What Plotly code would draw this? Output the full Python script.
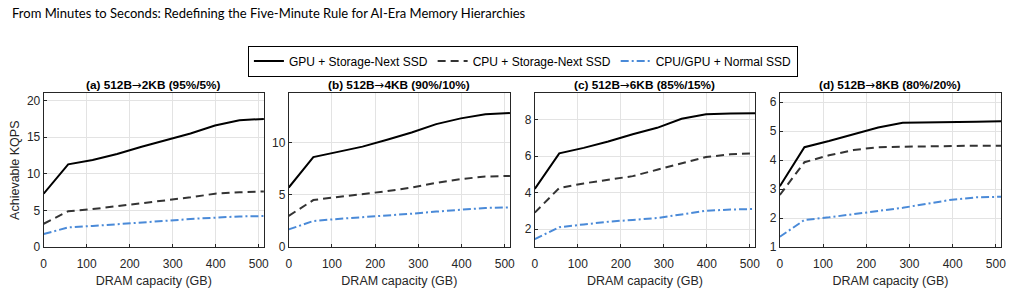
import plotly.graph_objects as go

# DRAM capacity (GB) sample points
dram_gb = [0, 56.9, 113.8, 170.7, 227.6, 284.4, 341.3, 398.2, 455.1, 512]

panel_titles = ["(a) 512B→2KB (95%/5%)", "(b) 512B→4KB (90%/10%)",
                "(c) 512B→6KB (85%/15%)", "(d) 512B→8KB (80%/20%)"]
series_names = ["GPU + Storage-Next SSD", "CPU + Storage-Next SSD", "CPU/GPU + Normal SSD"]

# (a)
a_gpu_next = [7.3, 11.3, 11.9, 12.7, 13.7, 14.55, 15.5, 16.6, 17.3, 17.5]
a_cpu_next = [3.2, 4.9, 5.2, 5.6, 5.9, 6.4, 6.8, 7.3, 7.5, 7.6]
a_normal = [1.8, 2.7, 2.9, 3.1, 3.4, 3.6, 3.85, 4.05, 4.2, 4.25]
# (b)
b_gpu_next = [5.7, 8.6, 9.1, 9.6, 10.25, 10.95, 11.75, 12.3, 12.7, 12.8]
b_cpu_next = [3.0, 4.5, 4.8, 5.05, 5.35, 5.7, 6.15, 6.5, 6.75, 6.8]
b_normal = [1.7, 2.5, 2.7, 2.85, 3.0, 3.2, 3.4, 3.6, 3.75, 3.8]
# (c)
c_gpu_next = [4.2, 6.15, 6.45, 6.8, 7.2, 7.55, 8.05, 8.3, 8.33, 8.35]
c_cpu_next = [2.9, 4.25, 4.5, 4.7, 4.9, 5.25, 5.6, 5.95, 6.1, 6.15]
c_normal = [1.45, 2.1, 2.25, 2.4, 2.5, 2.6, 2.8, 3.0, 3.07, 3.1]
# (d)
d_gpu_next = [3.1, 4.45, 4.66, 4.89, 5.13, 5.29, 5.31, 5.33, 5.33, 5.34]
d_cpu_next = [2.8, 3.93, 4.17, 4.35, 4.45, 4.47, 4.48, 4.49, 4.5, 4.5]
d_normal = [1.36, 1.94, 2.03, 2.15, 2.25, 2.36, 2.5, 2.64, 2.72, 2.74]

panels = [
    (a_gpu_next, a_cpu_next, a_normal),
    (b_gpu_next, b_cpu_next, b_normal),
    (c_gpu_next, c_cpu_next, c_normal),
    (d_gpu_next, d_cpu_next, d_normal),
]
y_ranges = [[0, 21], [0, 14.7], [1, 9.45], [1, 6.31]]
y_ticks = [[0, 5, 10, 15, 20], [0, 5, 10], [2, 4, 6, 8], [1, 2, 3, 4, 5, 6]]
x_ticks = [0, 100, 200, 300, 400, 500]

W, H = 1015, 292
x_px = [(41, 263), (288, 511), (536, 758), (783, 1006)]
y_px = (95.5, 253.3)
ydom = [(H - y_px[1]) / H, (H - y_px[0]) / H]

styles = [
    dict(color="#000000", width=2, dash="solid"),
    dict(color="#333333", width=2, dash="8px,5px"),
    dict(color="#4a8ad8", width=2, dash="8px,3px,2px,3px"),
]

font_main = "Liberation Sans, Arial, Helvetica, sans-serif"
axis_col = "#262626"

fig = go.Figure()
layout = dict(
    width=W, height=H,
    margin=dict(l=0, r=0, t=0, b=0),
    paper_bgcolor="white", plot_bgcolor="white",
    font=dict(family=font_main, size=12, color=axis_col),
    showlegend=True,
    legend=dict(orientation="h", x=0.5163, y=(H - 62.5) / H, xanchor="center", yanchor="middle",
                bordercolor="#000000", borderwidth=1, bgcolor="white",
                font=dict(family=font_main, size=12, color="#000000"),
                itemwidth=30, tracegroupgap=0),
    annotations=[],
)

for i, (series, yr, yt) in enumerate(zip(panels, y_ranges, y_ticks)):
    sfx = "" if i == 0 else str(i + 1)
    for j, (vals, name, st) in enumerate(zip(series, series_names, styles)):
        fig.add_trace(go.Scatter(
            x=dram_gb, y=vals, mode="lines", name=name, line=st,
            xaxis="x" + sfx, yaxis="y" + sfx, showlegend=(i == 0)))
    xd = [x_px[i][0] / W, x_px[i][1] / W]
    layout["xaxis" + sfx] = dict(
        domain=xd, anchor="y" + sfx, range=[0, 512], tickvals=x_ticks,
        showline=True, linecolor=axis_col, linewidth=1, mirror=True,
        ticks="inside", ticklen=3, tickcolor=axis_col, ticklabelstandoff=5,
        showgrid=True, gridcolor="#e3e3e3", gridwidth=1, zeroline=False,
        tickfont=dict(size=12, color=axis_col),
        title=dict(text="DRAM capacity (GB)", font=dict(size=12.5, color=axis_col), standoff=6))
    layout["yaxis" + sfx] = dict(
        domain=ydom, anchor="x" + sfx, range=yr, tickvals=yt,
        showline=True, linecolor=axis_col, linewidth=1, mirror=True,
        ticks="inside", ticklen=3, tickcolor=axis_col,
        showgrid=True, gridcolor="#e3e3e3", gridwidth=1, zeroline=False,
        tickfont=dict(size=12, color=axis_col))
    if i == 0:
        layout["yaxis"]["title"] = dict(text="Achievable KQPS", font=dict(size=12.5, color=axis_col), standoff=4)
    title_html = panel_titles[i].replace(
        "→", "<span style='font-family:DejaVu Sans;font-weight:normal'>→</span>")
    layout["annotations"].append(dict(
        text="<b>" + title_html + "</b>", x=(xd[0] + xd[1]) / 2, y=(H - 87) / H,
        xref="paper", yref="paper", xanchor="center", yanchor="middle", showarrow=False,
        font=dict(family=font_main, size=11.8, color="#000000")))

layout["annotations"].append(dict(
    text="From Minutes to Seconds: Redefining the Five-Minute Rule for AI-Era Memory Hierarchies",
    x=7 / W, y=(H - 13) / H, xref="paper", yref="paper", xanchor="left", yanchor="middle",
    showarrow=False, font=dict(family="Lato, Open Sans, sans-serif", size=13, color="#000000")))

fig.update_layout(**layout)
fig.write_html("out.html")
